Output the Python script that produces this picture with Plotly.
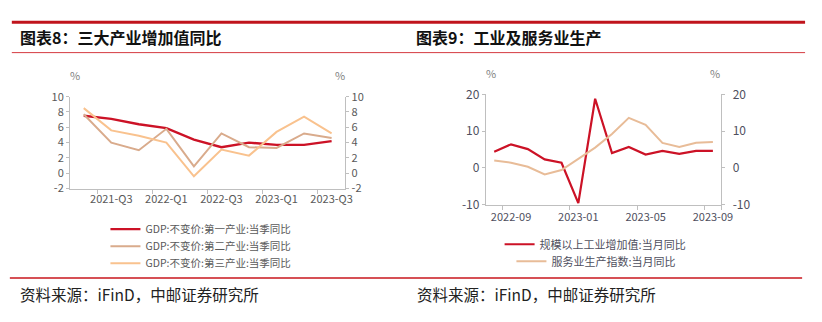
import plotly.graph_objects as go

W, H = 822, 322

# ---------- data ----------
quarters = ["2021-Q2", "2021-Q3", "2021-Q4", "2022-Q1", "2022-Q2", "2022-Q3",
            "2022-Q4", "2023-Q1", "2023-Q2", "2023-Q3"]
q_ticks = ["2021-Q3", "2022-Q1", "2022-Q3", "2023-Q1", "2023-Q3"]
primary = [7.5, 7.1, 6.4, 5.9, 4.4, 3.4, 4.0, 3.7, 3.7, 4.2]
secondary = [7.7, 4.0, 3.0, 5.8, 0.9, 5.2, 3.4, 3.3, 5.2, 4.6]
tertiary = [8.5, 5.6, 4.9, 4.0, -0.4, 3.1, 2.3, 5.4, 7.4, 5.2]
left_yticks = [-2, 0, 2, 4, 6, 8, 10]

months = ["2022-08", "2022-09", "2022-10", "2022-11", "2022-12", "2023-01", "2023-02",
          "2023-03", "2023-04", "2023-05", "2023-06", "2023-07", "2023-08", "2023-09"]
m_ticks = ["2022-09", "2023-01", "2023-05", "2023-09"]
industry = [4.4, 6.4, 5.1, 2.3, 1.4, -9.6, 18.8, 4.0, 5.7, 3.6, 4.6, 3.8, 4.6, 4.6]
services = [2.0, 1.4, 0.3, -1.8, -0.6, 2.5, 5.5, 9.2, 13.6, 11.7, 6.8, 5.7, 6.8, 7.0]
right_yticks = [-10, 0, 10, 20]

left_names = ["GDP:不变价:第一产业:当季同比", "GDP:不变价:第二产业:当季同比", "GDP:不变价:第三产业:当季同比"]
right_names = ["规模以上工业增加值:当月同比", "服务业生产指数:当月同比"]

RED = "#CC1226"
TAN = "#D9AB8C"
PEACH = "#F9C28E"
SERV = "#E8BC98"
AXIS = "#BFBFBF"
FONT = "Noto Sans CJK SC"


def px(x):
    return x / W


def py(y):
    return 1 - y / H


fig = go.Figure()

# left chart
for name, vals, col, w, lg in [(left_names[0], primary, RED, 2.4, "legend"),
                               (left_names[1], secondary, TAN, 2.0, "legend4"),
                               (left_names[2], tertiary, PEACH, 2.0, "legend5")]:
    fig.add_trace(go.Scatter(x=quarters, y=vals, name=name, mode="lines",
                             line=dict(color=col, width=w), xaxis="x", yaxis="y",
                             legend=lg))

# right chart
fig.add_trace(go.Scatter(x=months, y=industry, name=right_names[0], mode="lines",
                         line=dict(color=RED, width=2.2), xaxis="x2", yaxis="y3",
                         legend="legend2"))
fig.add_trace(go.Scatter(x=months, y=services, name=right_names[1], mode="lines",
                         line=dict(color=SERV, width=2.0), xaxis="x2", yaxis="y3",
                         legend="legend3"))

# invisible helpers so the mirrored right-hand axes are drawn
fig.add_trace(go.Scatter(x=[quarters[0]], y=[None], xaxis="x", yaxis="y2", showlegend=False,
                         hoverinfo="skip"))
fig.add_trace(go.Scatter(x=[months[0]], y=[None], xaxis="x2", yaxis="y4", showlegend=False,
                         hoverinfo="skip"))

tickfont_l = dict(family=FONT, size=11, color="#595959")
tickfont_rx = dict(family=FONT, size=11, color="#4F4F5E")
tickfont_ry = dict(family=FONT, size=12, color="#4F4F5E")

common_y = dict(showgrid=False, zeroline=False, showline=True, linecolor=AXIS, linewidth=1,
                ticks="outside", ticklen=3, tickcolor=AXIS)
common_x = dict(type="category", showgrid=False, zeroline=False, showline=True,
                linecolor=AXIS, linewidth=1, ticks="outside", ticklen=4, tickcolor=AXIS,
                tickson="boundaries", tickangle=0)

ld = [py(188.5), py(91.5)]
rd = [py(205.5), py(89)]

lyt = dict(tickvals=left_yticks, ticktext=[str(v) for v in left_yticks])
ryt = dict(tickvals=right_yticks, ticktext=[str(v) for v in right_yticks])

leg_l = dict(xanchor="left", yanchor="top", font=dict(family=FONT, size=10.5, color="#595959"),
             bgcolor="rgba(0,0,0,0)", itemwidth=30)
leg_r = dict(xanchor="left", yanchor="top", font=dict(family=FONT, size=11, color="#4F4F5E"),
             bgcolor="rgba(0,0,0,0)", itemwidth=30)

fig.update_layout(
    width=W, height=H, margin=dict(l=0, r=0, t=0, b=0),
    paper_bgcolor="white", plot_bgcolor="white",
    xaxis=dict(domain=[px(71), px(350.5)], anchor="y", range=[-0.5, 9.5],
               tickvals=q_ticks, ticktext=q_ticks, tickfont=tickfont_l, **common_x),
    yaxis=dict(domain=ld, anchor="x", range=[-2, 10], tickfont=tickfont_l, **lyt, **common_y),
    yaxis2=dict(domain=ld, anchor="x", overlaying="y", side="right", range=[-2, 10],
                tickfont=tickfont_l, **lyt, **common_y),
    xaxis2=dict(domain=[px(493), px(732)], anchor="y3", range=[-0.5, 13.5],
                tickvals=m_ticks, ticktext=m_ticks, tickfont=tickfont_rx,
                ticklabelstandoff=2, **common_x),
    yaxis3=dict(domain=rd, anchor="x2", range=[-10, 20], tickfont=tickfont_ry, **ryt,
                **common_y),
    yaxis4=dict(domain=rd, anchor="x2", overlaying="y3", side="right", range=[-10, 20],
                tickfont=tickfont_ry, ticklabelstandoff=5, **ryt, **common_y),
    legend=dict(x=px(107), y=py(216), **leg_l),
    legend4=dict(x=px(107), y=py(234), **leg_l),
    legend5=dict(x=px(107), y=py(252), **leg_l),
    legend2=dict(x=px(507), y=py(232), **leg_r),
    legend3=dict(x=px(519), y=py(250), **leg_r),
    showlegend=True,
)

shapes = [
    dict(type="line", xref="paper", yref="paper", x0=px(12), x1=px(817), y0=py(13), y1=py(13),
         line=dict(color="#C0141C", width=3)),
    dict(type="line", xref="paper", yref="paper", x0=px(12), x1=px(817), y0=py(45), y1=py(45),
         line=dict(color="#D53A40", width=1)),
    dict(type="line", xref="paper", yref="paper", x0=px(10), x1=px(814), y0=py(283), y1=py(283),
         line=dict(color="#C8161D", width=1.5)),
]

annots = []
for x, text in [(18, "图表8：三大产业增加值同比"), (420, "图表9：工业及服务业生产")]:
    annots.append(dict(x=px(x), y=py(29), xref="paper", yref="paper", xanchor="left",
                       yanchor="middle", showarrow=False, text="<b>" + text + "</b>",
                       font=dict(family=FONT, size=16, color="#111111")))
for x in (18, 421):
    annots.append(dict(x=px(x), y=py(300), xref="paper", yref="paper", xanchor="left",
                       yanchor="middle", showarrow=False, text="资料来源：iFinD，中邮证券研究所",
                       font=dict(family=FONT, size=15.5, color="#222222")))
for x, y in [(76, 69), (345, 69), (498, 67), (726, 67)]:
    annots.append(dict(x=px(x), y=py(y), xref="paper", yref="paper", xanchor="center",
                       yanchor="middle", showarrow=False, text="%",
                       font=dict(family=FONT, size=11, color="#7F7F7F")))

fig.update_layout(shapes=shapes, annotations=annots)
fig.write_html("out.html")
